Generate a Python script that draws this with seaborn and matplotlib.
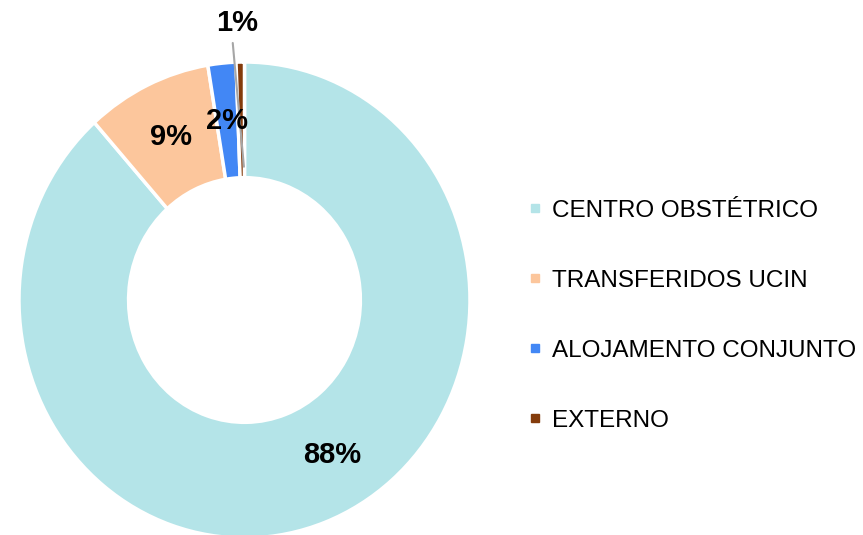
import numpy as np
import matplotlib
matplotlib.use('Agg')
import matplotlib.pyplot as plt
import seaborn as sns
from matplotlib.lines import Line2D

# data (percent of total)
categories = ['CENTRO OBSTÉTRICO', 'TRANSFERIDOS UCIN', 'ALOJAMENTO CONJUNTO', 'EXTERNO']
values = [88.4, 9.0, 2.0, 0.6]
colors = ['#B4E4E8', '#FCC69C', '#4287F5', '#843C0C']

sns.set_theme(style='white')
plt.rcParams['font.family'] = ['Liberation Sans', 'DejaVu Sans']
plt.rcParams['text.color'] = 'black'

fig = plt.figure(figsize=(8.63, 5.35), dpi=100)
ax = fig.add_axes([0.022, -0.0056, 0.5226, 0.8897])

wedges, _ = ax.pie(values, colors=colors, startangle=90, counterclock=False,
                   radius=1, wedgeprops=dict(width=0.486, edgecolor='white', linewidth=2.5))
ax.set_aspect('auto')
ax.set_xlim(-1, 1)
ax.set_ylim(-1, 1)
ax.axis('off')

# percentage labels in the middle of the ring
total = sum(values)
for w, v in zip(wedges, values):
    mid = np.deg2rad((w.theta1 + w.theta2) / 2)
    txt = f'{round(v / total * 100):.0f}%'
    if v / total < 0.01:
        # tiny slice: label above the ring with a gray leader line
        lx = np.cos(mid) * 1.17 - 0.012
        ax.text(lx, 1.165, txt, ha='center', va='center', color='black',
                fontsize=21, fontweight='bold', clip_on=False)
        ax.plot([lx - 0.018, np.cos(mid) * 0.56 + 0.008], [1.08, 0.56],
                color='#A6A6A6', lw=1.5, zorder=5, clip_on=False)
    else:
        if v / total > 0.5:
            mid += np.deg2rad(10)
        r = 0.757
        ax.text(np.cos(mid) * r, np.sin(mid) * r, txt, ha='center', va='center',
                color='black', fontsize=21, fontweight='bold', zorder=6)

handles = [Line2D([0], [0], marker='s', linestyle='none', markersize=6,
                  markerfacecolor=c, markeredgecolor=c) for c in colors]
leg = fig.legend(handles, categories, loc='center left', bbox_to_anchor=(0.612, 0.41),
                 frameon=False, fontsize=17.5, labelspacing=1.97, handlelength=0.6,
                 handletextpad=0.4, borderpad=0, borderaxespad=0)
for t in leg.get_texts():
    t.set_color('black')

fig.savefig('out.png', dpi=100)
